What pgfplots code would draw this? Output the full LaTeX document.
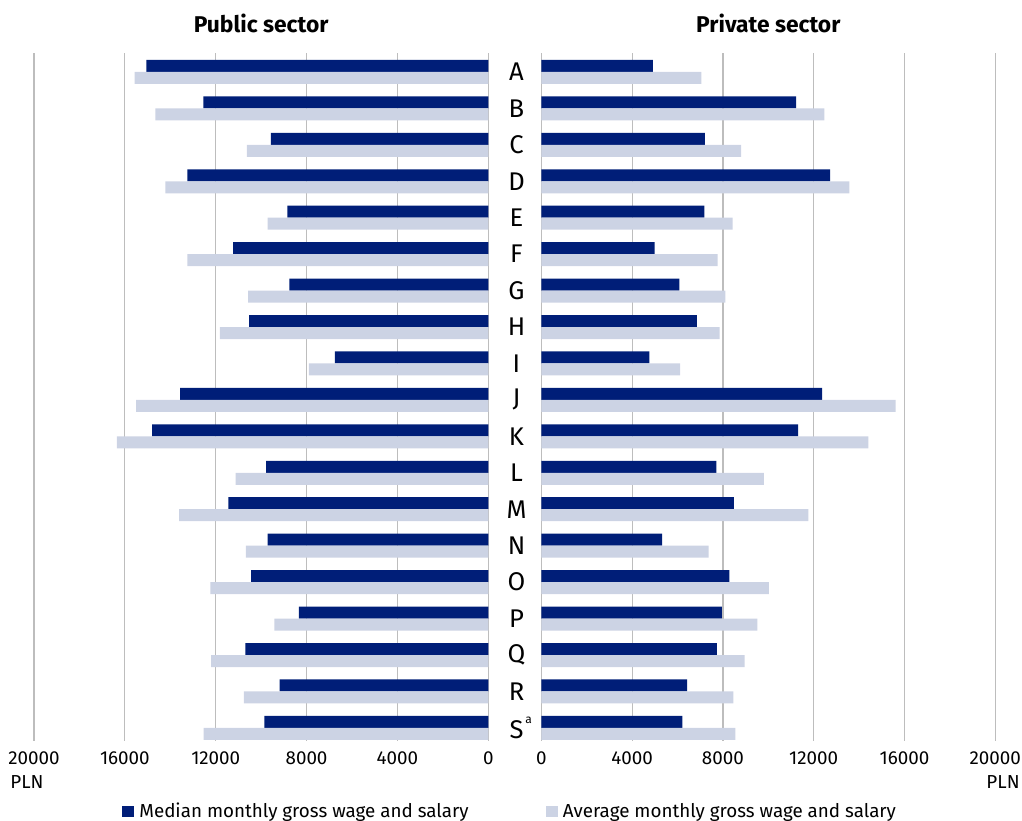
\documentclass[border=0pt]{standalone}
\usepackage{fontspec}
\setmainfont{Fira Sans}
\usepackage{pgfplots}
\usepackage{pgfplotstable}
\pgfplotsset{compat=1.18}

\definecolor{navy}{HTML}{001E78}
\definecolor{lightbar}{HTML}{CCD3E4}
\definecolor{gridgray}{HTML}{BDBDBD}

\newcommand\tickfont{\fontsize{9.4}{11}\selectfont}

% y = category index (A = 0 ... S = 18), wages in PLN
\pgfplotstableread{
y  pubmed pubavg privmed privavg
0  15050  15570  4910    7050
1  12540  14660  11230   12470
2  9570   10630  7210    8800
3  13250  14220  12720   13570
4  8840   9720   7180    8430
5  11230  13250  4990    7770
6  8760   10570  6080    8110
7  10530  11820  6850    7860
8  6750   7900   4760    6120
9  13570  15500  12370   15610
10 14800  16350  11310   14410
11 9780   11120  7710    9800
12 11440  13610  8480    11760
13 9720   10670  5320    7370
14 10440  12230  8280    10020
15 8340   9420   7960    9520
16 10690  12200  7730    8960
17 9190   10760  6420    8460
18 9860   12530  6210    8550
}\wages

\pgfplotsset{
  halfchart/.style={
    xbar, bar width=6pt,
    scale only axis, height=344pt,
    xmin=0, xmax=20000,
    ymin=-0.52, ymax=18.36, y dir=reverse,
    enlargelimits=false,
    scaled x ticks=false,
    axis line style={draw=none},
    major tick length=0pt,
    xtick={0,4000,...,20000},
    xmajorgrids,
    grid style={gridgray, line width=0.6pt},
    xticklabel style={font=\tickfont, yshift=-2pt},
    title style={at={(0.5,1)}, anchor=base, yshift=4.4pt,
      font=\bfseries\fontsize{11.4}{13}\selectfont},
    legend image code/.code={\fill[##1] (0pt,-2.9pt) rectangle (5.8pt,2.9pt);},
  },
  medbar/.style={draw=none, fill=navy, bar shift=3pt},
  avgbar/.style={draw=none, fill=lightbar, bar shift=-3pt},
}

\begin{document}
\begin{tikzpicture}
\useasboundingbox (0,0) rectangle (511pt,410pt);

\begin{axis}[halfchart,
  at={(17pt,39.5pt)}, anchor=south west,
  width=227.15pt,
  x dir=reverse,
  ytick=\empty,
  xticklabels={0,4000,8000,12000,16000,20000},
  title={Public sector},
]
\addplot[medbar] table[x=pubmed, y=y] {\wages};
\addplot[avgbar] table[x=pubavg, y=y] {\wages};
\end{axis}

\begin{axis}[halfchart,
  at={(270.65pt,39.5pt)}, anchor=south west,
  width=227pt,
  ytick={0,...,18},
  yticklabels={A,B,C,D,E,F,G,H,I,J,K,L,M,N,O,P,Q,R,S\rlap{\raisebox{1.1ex}{\fontsize{6}{7}\selectfont\,a}}},
  yticklabel style={anchor=center, xshift=-12.4pt, font=\fontsize{12.8}{14}\selectfont},
  xticklabels={0,4000,8000,12000,16000,20000},
  title={Private sector},
  legend columns=2,
  legend style={at={(-0.9236,-0.1025)}, anchor=west, draw=none, fill=none,
    inner sep=0pt, font=\tickfont,
    nodes={inner xsep=2.7pt, inner ysep=1pt},
    /tikz/every even column/.append style={column sep=36pt}},
]
\addplot[medbar] table[x=privmed, y=y] {\wages};
\addlegendentry{Median monthly gross wage and salary}
\addplot[avgbar] table[x=privavg, y=y] {\wages};
\addlegendentry{Average monthly gross wage and salary}
\end{axis}

\node[anchor=base west, font=\tickfont, inner sep=0pt] at (5pt,16pt) {PLN};
\node[anchor=base east, font=\tickfont, inner sep=0pt] at (510pt,16pt) {PLN};
\end{tikzpicture}
\end{document}
